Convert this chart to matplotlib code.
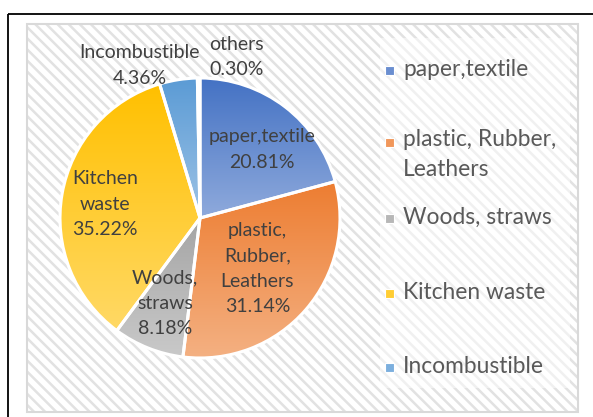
import numpy as np
import matplotlib
matplotlib.use('Agg')
import matplotlib.pyplot as plt
from matplotlib.patches import Rectangle
from matplotlib.colors import to_rgb

# data
labels = ['paper,textile', 'plastic, Rubber,\nLeathers', 'Woods, straws',
          'Kitchen waste', 'Incombustible', 'others']
slice_labels = ['paper,textile', 'plastic,\nRubber,\nLeathers', 'Woods,\nstraws',
                'Kitchen\nwaste', 'Incombustible', 'others']
values = [20.81, 31.14, 8.18, 35.22, 4.36, 0.30]
top_colors = ['#4472C4', '#ED7D31', '#A5A5A5', '#FFC000', '#5B9BD5', '#264478']
bottom_colors = ['#8FAADC', '#F4B183', '#C9C9C9', '#FFD966', '#9DC3E6', '#698ED0']

# label centres, in pie radius units (layout)
label_xy = [(0.44, 0.49), (0.41, -0.36), (-0.25, -0.61), (-0.68, 0.10),
            (-0.43, 1.09), (0.26, 1.15)]

W, H = 593, 417
plt.rcParams['font.family'] = ['Lato', 'DejaVu Sans']
plt.rcParams['hatch.linewidth'] = 1.8
fig = plt.figure(figsize=(W / 100, H / 100), dpi=100)

# background in pixel coordinates
bg = fig.add_axes([0, 0, 1, 1], zorder=0)
bg.set_xlim(0, W)
bg.set_ylim(H, 0)
bg.axis('off')
bg.add_patch(Rectangle((27, 24), 551, 388, facecolor='white', edgecolor='#e2e2e2',
                       hatch='\\\\\\', linewidth=0))
bg.add_patch(Rectangle((27, 24), 551, 388, fill=False, edgecolor='#d9d9d9', linewidth=1.5))
bg.add_patch(Rectangle((8, 14), 620, 430, fill=False, edgecolor='black', linewidth=1.3))
bg.add_patch(Rectangle((380, 38), 190, 350, facecolor='white', alpha=0.5, linewidth=0))

# legend (first five entries), marker aligned with first text line
leg_y = [70, 142, 218, 293, 367]
for i, yy in enumerate(leg_y):
    c = (np.array(to_rgb(top_colors[i])) + np.array(to_rgb(bottom_colors[i]))) / 2
    bg.add_patch(Rectangle((385, yy - 4.5), 9, 9, facecolor=c, edgecolor='white', linewidth=0.8))
    extra = labels[i].count('\n') * 28
    bg.text(403, yy + 6 + extra, labels[i], fontsize=16.4, color='#595959', ha='left',
            va='baseline', linespacing=1.5)

# pie
ax = fig.add_axes([60 / W, (H - 358) / H, 280 / W, 280 / H], zorder=1)
wedges, _ = ax.pie(values, startangle=90, counterclock=False, radius=1,
                   colors=['none'] * len(values),
                   wedgeprops=dict(edgecolor='white', linewidth=2.2))
for i, w in enumerate(wedges):
    v = w.get_path().vertices
    x0, x1 = v[:, 0].min(), v[:, 0].max()
    y0, y1 = v[:, 1].min(), v[:, 1].max()
    t = np.linspace(0, 1, 256)[:, None]
    grad = (1 - t) * np.array(to_rgb(top_colors[i])) + t * np.array(to_rgb(bottom_colors[i]))
    im = ax.imshow(grad[:, None, :], extent=[x0, x1, y0, y1], origin='upper',
                   aspect='auto', interpolation='bilinear', zorder=0.5)
    im.set_clip_path(w)
    w.set_zorder(1)

for i, (lx, ly) in enumerate(label_xy):
    ax.text(lx, ly, f'{slice_labels[i]}\n{values[i]:.2f}%', ha='center', va='center',
            multialignment='center', fontsize=14, color='#404040', linespacing=1.6,
            zorder=3)

ax.set_xlim(-1, 1)
ax.set_ylim(-1, 1)
ax.axis('off')

fig.savefig('out.png', dpi=100)
